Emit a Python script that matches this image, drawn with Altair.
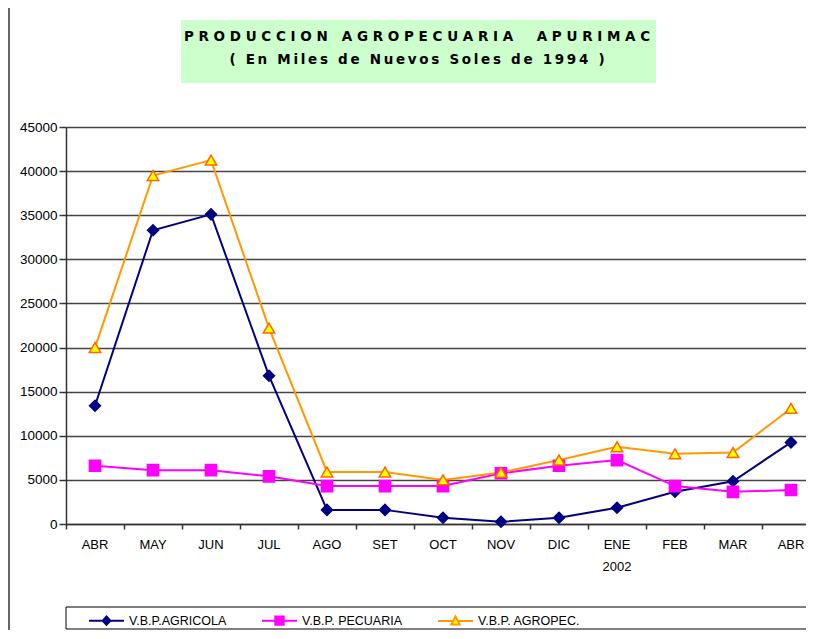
import altair as alt
import pandas as pd

# ---- data ----
months = ["ABR", "MAY", "JUN", "JUL", "AGO", "SET", "OCT", "NOV", "DIC", "ENE", "FEB", "MAR", "ABR"]
years = ["", "", "", "", "", "", "", "", "", "2002", "", "", ""]
series = ["V.B.P.AGRICOLA", "V.B.P. PECUARIA", "V.B.P. AGROPEC."]
agricola = [13400, 33300, 35100, 16800, 1600, 1600, 700, 250, 700, 1850, 3650, 4850, 9250]
pecuaria = [6600, 6100, 6100, 5400, 4300, 4300, 4300, 5750, 6600, 7250, 4300, 3650, 3850]
agropec = [20000, 39500, 41250, 22200, 5900, 5900, 5000, 5850, 7250, 8750, 7950, 8100, 13100]
y_ticks = [0, 5000, 10000, 15000, 20000, 25000, 30000, 35000, 40000, 45000]
title_words_1 = ["PRODUCCION", "AGROPECUARIA", "APURIMAC"]
title_words_2 = ["(", "En", "Miles", "de", "Nuevos", "Soles", "de", "1994", ")"]

# ---- styling ----
FONT = "Liberation Sans, Arial"
line_colors = ["#000080", "#FF00FF", "#FF9900"]
fill_colors = ["#000080", "#FF00FF", "#FFFF00"]
edge_colors = ["#000080", "#FF00FF", "#FF6600"]
shapes = ["diamond", "square", "triangle-up"]
sizes = [120, 130, 170]
legend_paths = [
    "M-1,0L1,0M0,-0.24L0.22,0L0,0.24L-0.22,0Z",
    "M-1,0L1,0M-0.24,-0.24L0.24,-0.24L0.24,0.24L-0.24,0.24Z",
    "M-1,0L-0.18,0M0.18,0L1,0M0,-0.26L0.24,0.2L-0.24,0.2Z",
]

rows = []
for name, vals in zip(series, [agricola, pecuaria, agropec]):
    for i, v in enumerate(vals):
        rows.append({"i": i, "serie": name, "valor": v})
df = pd.DataFrame(rows)

def js_label(m, yv):
    return "['%s','%s']" % (m, yv) if yv else "'%s'" % m

label_expr = "[" + ",".join(js_label(m, yv) for m, yv in zip(months, years)) + "][datum.value]"

W, H = 740, 397
X_RANGE = 754

x_enc = alt.X(
    "i:O",
    scale=alt.Scale(type="band", paddingInner=0, paddingOuter=0, range=[0, X_RANGE]),
    axis=alt.Axis(
        title=None, labelExpr=label_expr, labelAngle=0, bandPosition=0,
        tickSize=5, tickColor="#333333", tickWidth=1.5, domainColor="#333333", domainWidth=1.5,
        labelFont=FONT, labelFontSize=13, labelColor="black", labelPadding=9,
        labelLineHeight=22, grid=False,
    ),
)
y_enc = alt.Y(
    "valor:Q",
    scale=alt.Scale(domain=[0, 45000], nice=False),
    axis=alt.Axis(
        title=None, values=y_ticks, format="d", grid=True, gridColor="#444444", gridWidth=1.5,
        tickSize=7, tickColor="#333333", tickWidth=1.5, domainColor="#333333", domainWidth=1.5,
        labelFont=FONT, labelFontSize=13.5, labelColor="black", labelPadding=2,
    ),
)

base = alt.Chart(df)

lines = base.mark_line(strokeWidth=2).encode(
    x=x_enc, y=y_enc,
    stroke=alt.Stroke("serie:N", scale=alt.Scale(domain=series, range=line_colors), legend=None),
    detail="serie:N",
)

points = base.mark_point(filled=True, strokeWidth=1.5, opacity=1).encode(
    x=x_enc, y=y_enc,
    shape=alt.Shape("serie:N", scale=alt.Scale(domain=series, range=shapes), legend=None),
    fill=alt.Fill("serie:N", scale=alt.Scale(domain=series, range=fill_colors), legend=None),
    stroke=alt.Stroke("serie:N", scale=alt.Scale(domain=series, range=edge_colors), legend=None),
    size=alt.Size("serie:N", scale=alt.Scale(domain=series, range=sizes), legend=None),
)

leg = alt.Legend(
    orient="none", legendX=22, legendY=475, direction="horizontal", title=None,
    labelFont=FONT, labelFontSize=12.5, labelColor="black", symbolSize=1225,
    symbolStrokeWidth=2, columnPadding=31, labelOffset=4,
)
legend_layer = base.transform_filter("false").mark_point(filled=True, strokeWidth=2, opacity=1).encode(
    shape=alt.Shape("serie:N", scale=alt.Scale(domain=series, range=legend_paths), legend=leg),
    fill=alt.Fill("serie:N", scale=alt.Scale(domain=series, range=fill_colors), legend=leg),
    stroke=alt.Stroke("serie:N", scale=alt.Scale(domain=series, range=line_colors), legend=leg),
)

deco_df = pd.DataFrame({"k": [0]})
deco = alt.Chart(deco_df)
title_box = deco.mark_rect(fill="#CCFFCC").encode(
    x=alt.value(115), x2=alt.value(590), y=alt.value(-107), y2=alt.value(-44))
legend_box = deco.mark_rect(fill="white", stroke="black", strokeWidth=1).encode(
    x=alt.value(0), x2=alt.value(760), y=alt.value(480), y2=alt.value(502))
left_border = deco.mark_rule(stroke="#333333", strokeWidth=1.5).encode(
    x=alt.value(-57), y=alt.value(-119), y2=alt.value(503))

NB = "\u00a0"
TH = "\u2009"
spaced_1 = [" ".join(list(w)) for w in title_words_1]
t1 = spaced_1[0] + NB + " " + NB + spaced_1[1] + NB + " " + NB + " " + NB + spaced_1[2]
t2 = (TH + " " + TH).join(TH.join(list(w)) for w in title_words_2)

text1 = deco.mark_text(font="DejaVu Sans", fontWeight="bold", fontSize=13.5, align="center",
                       baseline="middle", color="black", text=t1).encode(
    x=alt.value(351), y=alt.value(-90))
text2 = deco.mark_text(font="DejaVu Sans", fontWeight="bold", fontSize=13.5, align="center",
                       baseline="middle", color="black", text=t2).encode(
    x=alt.value(351), y=alt.value(-67))

chart = alt.layer(
    title_box, legend_box, left_border, text1, text2, lines, points, legend_layer
).resolve_scale(
    shape="independent", fill="independent", stroke="independent", size="independent"
).properties(
    width=W, height=H,
    autosize=alt.AutoSizeParams(type="none"),
    padding={"left": 58, "top": 119, "right": 0, "bottom": 106},
    background="white",
).configure_view(
    fill="#CCFFCC", stroke=None
)

chart.save("out.html", embed_options={"renderer": "svg", "actions": False})
